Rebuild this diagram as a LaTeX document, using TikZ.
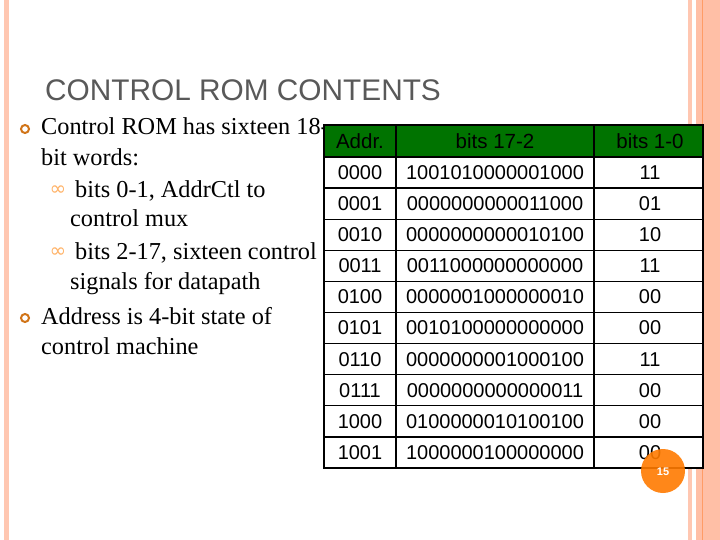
\documentclass[tikz,border=0pt]{standalone}
\usepackage{fontspec}
\setmainfont{Liberation Serif}
\setsansfont{Liberation Sans}
\newfontfamily\dv{DejaVu Sans}
\begin{document}
\begin{tikzpicture}[x=1pt,y=-1pt,
  cell/.style={font=\sffamily\fontsize{20}{20}\selectfont,anchor=center},
  hcell/.style={font=\sffamily\fontsize{20.5}{20}\selectfont,anchor=center,text=black},
  body/.style={font=\fontsize{24.3}{24}\selectfont,anchor=base west,inner sep=0},
  tline/.style={line width=2pt}]
\useasboundingbox (0,0) rectangle (720,540);
\fill[white] (0,0) rectangle (720,540);
% decorations
\fill[orange!25!pink!70] (4,0) rectangle (9,540);
\fill[orange!25!pink!70] (688,0) rectangle (692,540);
\fill[orange!25!pink!80] (696,0) rectangle (720,540);
\draw[orange!70!red!60,line width=0.8pt] (702,0) -- (702,540);
% title
\node[anchor=base west,inner sep=0,font=\sffamily\fontsize{29.8}{30}\selectfont,text=black!65] (title) at (45,101) {CONTROL ROM CONTENTS};
% bullets
\foreach \y in {128,317}{\draw[orange!80!black!90,line width=2pt] (25,\y+1) circle (4);}
\foreach \y in {190,252}{\node[text=orange!60,font=\dv\fontsize{20}{20}\selectfont] at (58,\y+1) {∞};}
\node[body] (b1) at (41,135) {Control ROM has sixteen 18-};
\node[body] (b2) at (41,166) {bit words:};
\node[body] (s1) at (75,197) {bits 0-1, AddrCtl to};
\node[body] (s1b) at (70,226) {control mux};
\node[body] (s2) at (75,259) {bits 2-17, sixteen control};
\node[body] (s2b) at (70,289) {signals for datapath};
\node[body] (b3) at (41,324) {Address is 4-bit state of};
\node[body] (b3b) at (41,354) {control machine};
% table
\fill[white] (324,125) rectangle (703,468);
\fill[green!45!black] (324,125) rectangle (703,157);
\foreach \i in {1,...,9}{\draw[line width=1.3pt] (324,157+31.1*\i) -- (703,157+31.1*\i);}
\draw[line width=1.3pt] (324,157) -- (703,157);
\draw[line width=1.3pt] (396,125) -- (396,468) (594,125) -- (594,468);
\draw[tline] (324,125) rectangle (703,468);
\node[hcell] (h1) at (360,141) {Addr.};
\node[hcell] (h2) at (495,141) {bits 17-2};
\node[hcell] (h3) at (650,141) {bits 1-0};
\foreach [count=\i] \a/\b/\c in {0000/1001010000001000/11,0001/0000000000011000/01,0010/0000000000010100/10,0011/0011000000000000/11,0100/0000001000000010/00,0101/0010100000000000/00,0110/0000000001000100/11,0111/0000000000000011/00,1000/0100000010100100/00,1001/1000000100000000/00}{
  \node[cell] (a\i) at (360,157+31.1*\i-15.5) {\a};
  \node[cell] (m\i) at (495,157+31.1*\i-15.5) {\b};
  \node[cell] (c\i) at (650,157+31.1*\i-15.5) {\c};
}
\fill[orange!85!red!90!yellow,opacity=0.9] (663,471) circle (22);
\node[text=white,font=\sffamily\bfseries\fontsize{11}{11}\selectfont] (pg) at (663,472) {15};
\end{tikzpicture}
\end{document}
